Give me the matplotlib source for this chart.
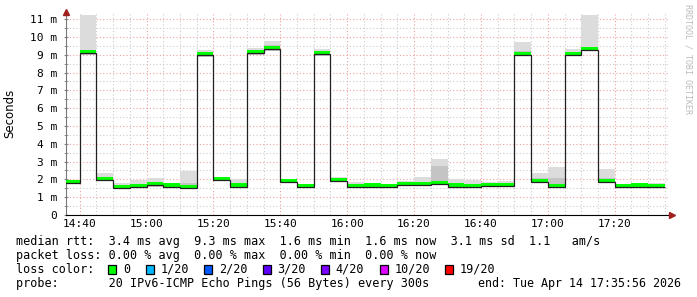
import matplotlib
matplotlib.use("Agg")
import matplotlib.pyplot as plt
from matplotlib.patches import Rectangle
import numpy as np

# step end times in minutes after 14:00, one round of pings every 300 s
step_end = np.arange(40, 216, 5)

# median rtt per step (ms)
median = [1.82, 9.14, 2.02, 1.59, 1.63, 1.72, 1.65, 1.59, 9.05, 2.00,
          1.65, 9.14, 9.37, 1.91, 1.63, 9.08, 1.97, 1.60, 1.65, 1.60,
          1.74, 1.72, 1.78, 1.65, 1.60, 1.69, 1.69, 9.05, 1.91, 1.63,
          9.05, 9.31, 1.91, 1.63, 1.65, 1.60]
# smoke (spread of the 20 pings)
smoke_lo = [1.75, 9.00, 1.90, 1.55, 1.57, 1.60, 1.60, 1.57, 8.90, 1.90,
            1.60, 9.00, 9.20, 1.85, 1.58, 8.95, 1.90, 1.55, 1.60, 1.55,
            1.68, 1.68, 1.70, 1.60, 1.55, 1.65, 1.62, 8.95, 1.85, 1.55,
            8.95, 9.20, 1.85, 1.58, 1.60, 1.55]
smoke_mid = [1.88, 9.25, 2.05, 1.70, 1.72, 1.80, 1.68, 1.80, 9.15, 2.05,
             1.75, 9.25, 9.55, 1.95, 1.68, 9.20, 2.05, 1.70, 1.68, 1.68,
             1.80, 1.85, 2.77, 1.80, 1.72, 1.75, 1.75, 9.20, 2.05, 2.10,
             9.15, 9.45, 2.10, 1.68, 1.70, 1.70]
smoke_hi = [1.90, 11.24, 2.34, 1.82, 1.97, 2.06, 1.72, 2.49, 9.27, 2.12,
            2.02, 9.37, 9.78, 1.95, 1.70, 9.31, 2.15, 1.87, 1.70, 1.72,
            1.91, 2.15, 3.15, 2.02, 1.97, 1.87, 1.91, 9.74, 2.38, 2.72,
            9.31, 11.24, 2.59, 1.72, 1.72, 1.78]

x_ticks = [40, 60, 80, 100, 120, 140, 160, 180, 200]
x_labels = ["14:40", "15:00", "15:20", "15:40", "16:00", "16:20", "16:40", "17:00", "17:20"]
y_ticks = list(range(12))
y_labels = ["0"] + ["%d m" % i for i in range(1, 12)]

loss_labels = ["0", "1/20", "2/20", "3/20", "4/20", "10/20", "19/20"]
loss_colors = ["#00ff00", "#00b8ff", "#0059ff", "#5e00ff", "#7e00ff", "#dd00ff", "#ff0000"]

W, H = 697, 297
fig = plt.figure(figsize=(W / 100, H / 100), dpi=100)
ax = fig.add_axes([66 / W, 82 / H, 602 / W, 203 / H])
mono = "DejaVu Sans Mono"

edges = np.concatenate([[step_end[0] - 5], step_end])
left = step_end - 5
lo = np.array(smoke_lo)
mid = np.array(smoke_mid)
hi = np.array(smoke_hi)
med = np.array(median)

ax.bar(left, hi - lo, width=5, bottom=lo, align="edge", color="#dcdcdc", lw=0, zorder=2)
ax.bar(left, mid - lo, width=5, bottom=lo, align="edge", color="#c4c4c4", lw=0, zorder=2)
ax.bar(left, 0.17, width=5, bottom=med - 0.05, align="edge", color="#00ff00", lw=0, zorder=3)
ax.stairs(med - 0.05, edges, baseline=None, color="#202020", lw=0.9, zorder=4)

ax.set_xlim(35.93, 215.93)
ax.set_ylim(0, 11.4)

# grid
ax.set_xticks(x_ticks)
ax.set_xticks(np.arange(40, 216, 5), minor=True)
ax.set_yticks(y_ticks)
ax.set_yticks(np.arange(0.5, 11.4, 0.5), minor=True)
ax.grid(which="minor", color="#cccccc", ls=(0, (1, 2)), lw=0.8, zorder=0)
ax.grid(which="major", color="#eea0a0", ls=(0, (1, 2)), lw=0.8, zorder=1)
ax.set_axisbelow(True)

ax.set_xticklabels(x_labels, fontfamily=mono, fontsize=8)
ax.set_yticklabels(y_labels, fontfamily=mono, fontsize=8)
ax.tick_params(axis="x", which="both", length=0, pad=3)
ax.tick_params(axis="y", which="both", direction="inout", length=3, color="#888888", pad=5)

for s in ["top", "right"]:
    ax.spines[s].set_visible(False)
ax.spines["left"].set_color("#777777")
ax.spines["bottom"].set_color("#000000")
ax.spines["left"].set_bounds(0, 11.4)

ax.plot([0], [1.0], marker="^", color="#a02020", ms=5, transform=ax.transAxes, clip_on=False, zorder=6)
ax.plot([1.007], [0], marker=">", color="#a02020", ms=5, transform=ax.transAxes, clip_on=False, zorder=6)

fig.text(10 / W, 1 - 113 / H, "Seconds", rotation=90, ha="center", va="center", fontsize=8.5, color="#000000")
fig.text(688 / W, 1 - 4 / H, "RRDTOOL / TOBI OETIKER", rotation=270, ha="center", va="top",
         fontfamily=mono, fontsize=6, color="#bbbbbb")

# legend block
x0 = 16
rows = [241, 255.5, 269.5, 284]
fs = 8.5


def fy(y):
    return 1 - y / H


fig.text(x0 / W, fy(rows[0]),
         "median rtt:  3.4 ms avg  9.3 ms max  1.6 ms min  1.6 ms now  3.1 ms sd  1.1   am/s",
         fontfamily=mono, fontsize=fs, va="center")
fig.text(x0 / W, fy(rows[1]),
         "packet loss: 0.00 % avg  0.00 % max  0.00 % min  0.00 % now",
         fontfamily=mono, fontsize=fs, va="center")
fig.text(x0 / W, fy(rows[2]), "loss color:", fontfamily=mono, fontsize=fs, va="center")
bx = 108.3
for lab, c in zip(loss_labels, loss_colors):
    fig.patches.append(Rectangle((bx / W, fy(rows[2] + 4.7)), 8 / W, 9.5 / H,
                                 transform=fig.transFigure, facecolor=c, edgecolor="#000000", lw=0.9))
    fig.text((bx + 14.5) / W, fy(rows[2]), lab, fontfamily=mono, fontsize=fs, va="center")
    bx += 30.4 + 7.03 * len(lab)
fig.text(x0 / W, fy(rows[3]),
         "probe:       20 IPv6-ICMP Echo Pings (56 Bytes) every 300s",
         fontfamily=mono, fontsize=fs, va="center")
fig.text(681 / W, fy(rows[3]), "end: Tue Apr 14 17:35:56 2026",
         fontfamily=mono, fontsize=8.4, va="center", ha="right")

fig.savefig("out.png", dpi=100, facecolor="white")
